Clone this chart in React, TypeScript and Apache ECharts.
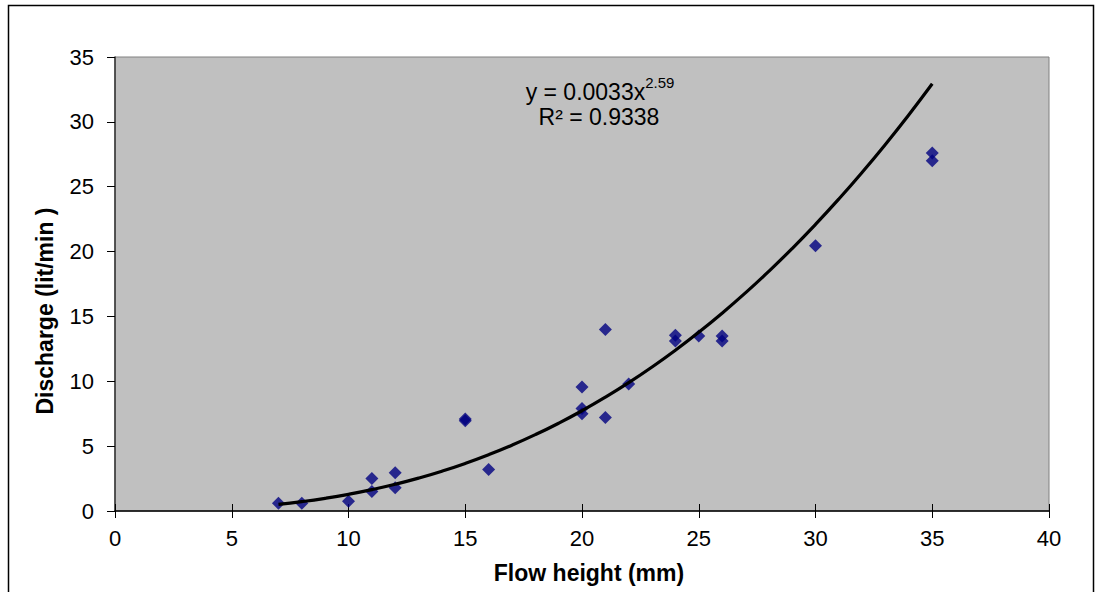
import React, { useEffect, useRef } from "react";
import * as echarts from "echarts";

// Measured points: flow height (mm) vs discharge (lit/min)
const flowHeight = [7, 8, 10, 11, 11, 12, 12, 15, 15, 16, 20, 20, 20, 21, 21, 22, 24, 24, 25, 26, 26, 30, 35, 35];
const discharge = [0.6, 0.6, 0.75, 2.5, 1.5, 2.95, 1.8, 7.1, 6.95, 3.2, 9.55, 7.9, 7.5, 14.0, 7.2, 9.8, 13.55, 13.1, 13.5, 13.5, 13.1, 20.45, 27.6, 27.0];

// Power trendline shown in the chart: y = 0.0033 x^2.59
const trendCoef = 0.0033;
const trendExp = 2.59;
const trendX = [7, 8, 9, 10, 11, 12, 13, 14, 15, 16, 17, 18, 19, 20, 21, 22, 23, 24, 25, 26, 27, 28, 29, 30, 31, 32, 33, 34, 35];

const xTicks = [0, 5, 10, 15, 20, 25, 30, 35, 40];
const yTicks = [0, 5, 10, 15, 20, 25, 30, 35];

const xTitle = "Flow height (mm)";
const yTitle = "Discharge (lit/min )";
const eqMain = "y = 0.0033x";
const eqExp = "2.59";
const eqR2 = "R² = 0.9338";

export default function App() {
  const ref = useRef<HTMLDivElement>(null);
  useEffect(() => {
    document.body.style.margin = "0";
    const chart = echarts.init(ref.current!, null, { renderer: "svg" });
    const font = "'Liberation Sans', Arial, sans-serif";
    const scatter = flowHeight.map((x, i) => [x, discharge[i]]);
    const trend = trendX.map((x) => [x, trendCoef * Math.pow(x, trendExp)]);
    const xBase = {
      type: "value" as const,
      min: xTicks[0],
      max: xTicks[xTicks.length - 1],
      interval: 5,
      splitLine: { show: false },
    };
    chart.setOption({
      animation: false,
      backgroundColor: "#ffffff",
      grid: {
        left: 115,
        top: 57,
        right: 56,
        bottom: 81,
        show: true,
        backgroundColor: "#c0c0c0",
        borderColor: "#808080",
        borderWidth: 1,
      },
      xAxis: [
        {
          ...xBase,
          axisLine: { show: true, lineStyle: { color: "#000", width: 1.5 } },
          axisTick: { show: true, inside: false, length: 7, lineStyle: { color: "#000" } },
          axisLabel: { margin: 16, fontFamily: font, fontSize: 22, color: "#000" },
        },
        {
          ...xBase,
          position: "bottom",
          axisLine: { show: false },
          axisTick: { show: true, inside: true, length: 7, lineStyle: { color: "#000" } },
          axisLabel: { show: false },
        },
      ],
      yAxis: {
        type: "value",
        min: yTicks[0],
        max: yTicks[yTicks.length - 1],
        interval: 5,
        splitLine: { show: false },
        axisLine: { show: true, lineStyle: { color: "#333", width: 1.5 } },
        axisTick: { show: true, inside: false, length: 8, lineStyle: { color: "#000" } },
        axisLabel: { margin: 21, fontFamily: font, fontSize: 22, color: "#000" },
      },
      graphic: [
        {
          type: "rect",
          shape: { x: 8.5, y: 5.5, width: 1085, height: 620 },
          style: { fill: "none", stroke: "#000", lineWidth: 1.5 },
          silent: true,
          z: -1,
        },
        {
          type: "text",
          x: 589,
          y: 573,
          style: {
            text: xTitle,
            align: "center",
            verticalAlign: "middle",
            fontFamily: font,
            fontSize: 23,
            fontWeight: "bold",
            fill: "#000",
          },
        },
        {
          type: "text",
          x: 45,
          y: 311,
          rotation: Math.PI / 2,
          style: {
            text: yTitle,
            align: "center",
            verticalAlign: "middle",
            fontFamily: font,
            fontSize: 23,
            fontWeight: "bold",
            fill: "#000",
          },
        },
        {
          type: "text",
          x: 600,
          y: 89,
          style: {
            text: "{m|" + eqMain + "}{s|" + eqExp + "}",
            align: "center",
            verticalAlign: "middle",
            rich: {
              m: { fontFamily: font, fontSize: 23, fill: "#000", verticalAlign: "bottom", lineHeight: 28 },
              s: { fontFamily: font, fontSize: 15, fill: "#000", verticalAlign: "top", lineHeight: 28 },
            },
          },
          z: 10,
        },
        {
          type: "text",
          x: 599,
          y: 117,
          style: {
            text: eqR2,
            align: "center",
            verticalAlign: "middle",
            fontFamily: font,
            fontSize: 23,
            fill: "#000",
          },
          z: 10,
        },
      ],
      series: [
        {
          type: "line",
          data: trend,
          smooth: true,
          showSymbol: false,
          symbol: "none",
          lineStyle: { color: "#000", width: 3.2 },
          z: 3,
        },
        {
          type: "scatter",
          data: scatter,
          symbol: "diamond",
          symbolSize: 13,
          itemStyle: { color: "#00007f" },
          z: 2,
        },
      ],
    });
    return () => chart.dispose();
  }, []);
  return <div ref={ref} style={{ width: 1105, height: 592 }} />;
}
